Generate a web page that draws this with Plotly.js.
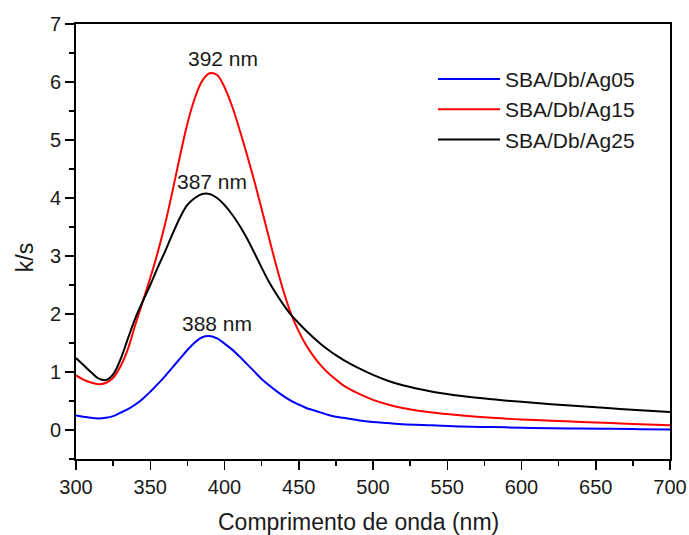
<!DOCTYPE html>
<html>
<head>
<meta charset="utf-8">
<script src="https://cdn.plot.ly/plotly-3.0.1.min.js"></script>
<style>html,body{margin:0;padding:0;background:#fff;}#chart{width:689px;height:535px;}</style>
</head>
<body>
<div id="chart"></div>
<script>
// Wavelength (nm)
const wavelength = [300,305,310,315,320,325,330,335,340,345,350,355,360,365,370,375,380,385,390,395,400,405,410,415,420,425,430,435,440,445,450,455,460,465,470,475,480,490,500,510,520,540,560,580,600,620,640,660,680,700];
// k/s values
const ag05 = [0.25,0.23,0.21,0.20,0.21,0.24,0.30,0.36,0.44,0.54,0.66,0.79,0.93,1.08,1.23,1.38,1.51,1.60,1.62,1.58,1.49,1.39,1.27,1.14,1.01,0.88,0.77,0.67,0.58,0.50,0.44,0.38,0.34,0.30,0.26,0.23,0.21,0.17,0.14,0.12,0.10,0.08,0.06,0.05,0.04,0.03,0.025,0.02,0.015,0.01];
const ag15 = [0.94,0.87,0.82,0.79,0.81,0.90,1.10,1.40,1.82,2.22,2.62,3.06,3.55,4.12,4.72,5.28,5.72,6.02,6.15,6.12,5.91,5.59,5.19,4.76,4.30,3.81,3.31,2.82,2.37,1.99,1.70,1.46,1.27,1.11,0.98,0.87,0.77,0.63,0.52,0.44,0.38,0.30,0.25,0.21,0.18,0.16,0.14,0.12,0.10,0.08];
const ag25 = [1.24,1.12,1.00,0.89,0.86,0.96,1.22,1.58,1.93,2.22,2.50,2.80,3.08,3.38,3.66,3.88,4.00,4.07,4.07,4.00,3.88,3.72,3.53,3.31,3.06,2.80,2.55,2.34,2.15,1.98,1.84,1.71,1.59,1.48,1.38,1.29,1.21,1.07,0.95,0.85,0.77,0.66,0.585,0.53,0.485,0.445,0.41,0.375,0.34,0.31];
const seriesNames = ["SBA/Db/Ag05","SBA/Db/Ag15","SBA/Db/Ag25"];
const seriesColors = ["#0000ff","#ff0000","#000000"];
// Peak labels
const peakLabels = ["392 nm","387 nm","388 nm"];
const peakLabelX = [398.7,391.9,394.7];
const peakLabelY = [6.40,4.29,1.83];
// Axis titles
const xTitle = "Comprimento de onda (nm)";
const yTitle = "k/s";

const font = "Liberation Sans, Arial, sans-serif";
const textColor = '#1a1a1a';
const ys = [ag05, ag15, ag25];
const traces = ys.map((y,i)=>({
  x: wavelength, y: y, type:'scatter', mode:'lines', name: seriesNames[i],
  line:{color: seriesColors[i], width:2, shape:'spline', smoothing:1}
}));

const axisCommon = {
  showline:true, linecolor:'#000', linewidth:2, mirror:true,
  ticks:'outside', ticklen:9, tickwidth:1.5, tickcolor:'#000',
  showgrid:false, zeroline:false,
  tickfont:{family:font, size:20, color:textColor}
};

const annotations = peakLabels.map((t,i)=>({
  x: peakLabelX[i], y: peakLabelY[i], xref:'x', yref:'y', text:t, showarrow:false,
  font:{family:font, size:21, color:textColor}, xanchor:'center', yanchor:'middle'
}));
annotations.push({
  x:0.4764, y:-0.145, xref:'paper', yref:'paper', text:xTitle, showarrow:false,
  font:{family:font, size:23, color:textColor}, xanchor:'center', yanchor:'middle'
});
annotations.push({
  x:-0.0859, y:0.464, xref:'paper', yref:'paper', text:yTitle, showarrow:false, textangle:-90,
  font:{family:font, size:23, color:textColor}, xanchor:'center', yanchor:'middle'
});

const layout = {
  width:689, height:535,
  margin:{l:76, r:19, t:24, b:76},
  paper_bgcolor:'#fff', plot_bgcolor:'#fff',
  font:{family:font, color:textColor},
  xaxis: Object.assign({}, axisCommon, {
    range:[300,700], dtick:50, tick0:300,
    minor:{dtick:25, ticks:'outside', ticklen:5, tickwidth:1.5, tickcolor:'#000'}
  }),
  yaxis: Object.assign({}, axisCommon, {
    range:[-0.5,7], dtick:1, tick0:0,
    minor:{dtick:0.5, ticks:'outside', ticklen:5, tickwidth:1.5, tickcolor:'#000'}
  }),
  showlegend:true,
  legend:{x:0.601, y:0.92, xanchor:'left', yanchor:'top', bgcolor:'rgba(0,0,0,0)',
    font:{family:font, size:21, color:textColor}, itemwidth:62, tracegroupgap:0},
  annotations: annotations
};

Plotly.newPlot('chart', traces, layout, {displayModeBar:false, staticPlot:true});
</script>
</body>
</html>
